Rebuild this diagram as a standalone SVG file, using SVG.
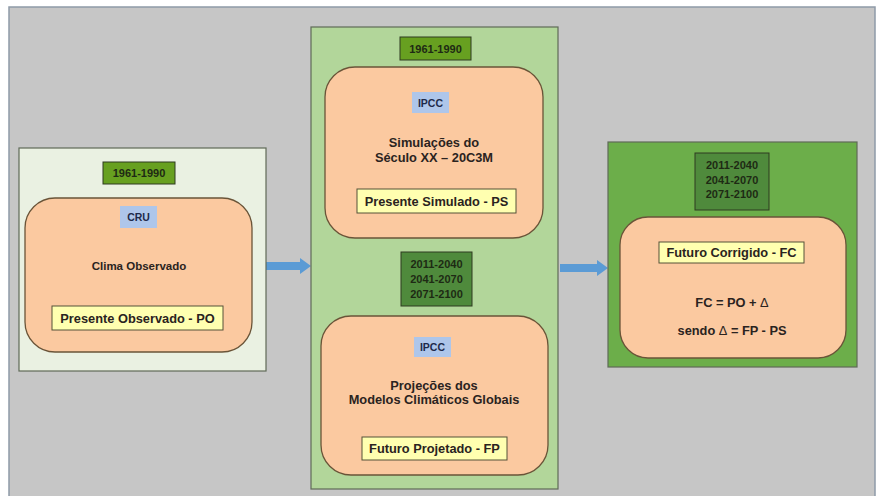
<svg xmlns="http://www.w3.org/2000/svg" width="878" height="496" viewBox="0 0 878 496">
<style>
text{font-family:"Liberation Sans",Arial,sans-serif;font-weight:bold;fill:#2a2320;text-anchor:middle;dominant-baseline:central}
.t11{font-size:11.5px}
.t13{font-size:12.8px}
.d{font-size:11px;fill:#1e2a14}
.s{font-size:10.5px;fill:#1e2a4a}
.cont{stroke:#5f6a58;stroke-width:1.2}
.date1{fill:#67a020;stroke:#2f3a20;stroke-width:1}
.date2{fill:#4f8a3c;stroke:#2f3a20;stroke-width:1}
.orange{fill:#fbc9a0;stroke:#6a5438;stroke-width:1.3}
.src{fill:#aec6ea}
.lbl{fill:#ffffb0;stroke:#555238;stroke-width:1}
.arrow{fill:#5b9bd5}
</style>
<rect x="0" y="0" width="878" height="496" fill="#ffffff"/>
<rect x="9" y="7" width="866" height="492" fill="#c6c6c6" stroke="#8e9aa8" stroke-width="1.5"/>

<g id="connectors">
<polygon class="arrow" points="266,262 300,262 300,258 311,266 300,274 300,270 266,270"/>
<polygon class="arrow" points="560,264 597,264 597,260 608,268 597,276 597,272 560,272"/>
</g>

<g id="observed">
<rect class="cont" x="19" y="148" width="247" height="223" fill="#eaf1e2"/>
<rect class="date1" x="103" y="162" width="72" height="22"/>
<text class="d" x="139" y="173">1961-1990</text>
<rect class="orange" x="25" y="198" width="227" height="154" rx="30"/>
<rect class="src" x="120" y="206" width="37" height="22"/>
<text class="s" x="138.5" y="217">CRU</text>
<text class="t11" x="139" y="266">Clima Observado</text>
<rect class="lbl" x="52" y="306" width="171" height="24"/>
<text class="t13" x="137.5" y="318">Presente Observado - PO</text>
</g>

<g id="simulated">
<rect class="cont" x="311" y="27" width="247" height="462" fill="#b2d69a"/>
<rect class="date1" x="400" y="37" width="71" height="23"/>
<text class="d" x="435.5" y="48.5">1961-1990</text>
<rect class="orange" x="325" y="67" width="218" height="171" rx="30"/>
<rect class="src" x="412" y="92" width="37" height="21"/>
<text class="s" x="430.5" y="102.5">IPCC</text>
<text class="t13" x="434" y="142">Simulações do</text>
<text class="t13" x="434" y="157">Século XX – 20C3M</text>
<rect class="lbl" x="357" y="189" width="159" height="24"/>
<text class="t13" x="436.5" y="201">Presente Simulado - PS</text>
</g>

<g id="projected">
<rect class="date2" x="401" y="252" width="71" height="54"/>
<text class="d" x="436.5" y="264">2011-2040</text>
<text class="d" x="436.5" y="279">2041-2070</text>
<text class="d" x="436.5" y="294">2071-2100</text>
<rect class="orange" x="321" y="316" width="227" height="159" rx="30"/>
<rect class="src" x="414" y="337" width="37" height="20"/>
<text class="s" x="432.5" y="347">IPCC</text>
<text class="t13" x="434" y="385">Projeções dos</text>
<text class="t13" x="434" y="399">Modelos Climáticos Globais</text>
<rect class="lbl" x="362" y="437" width="145" height="23"/>
<text class="t13" x="434.5" y="448.5">Futuro Projetado - FP</text>
</g>

<g id="corrected">
<rect class="cont" x="608" y="142" width="249" height="225" fill="#6cae4a"/>
<rect class="date2" x="695" y="153" width="74" height="57"/>
<text class="d" x="732" y="165">2011-2040</text>
<text class="d" x="732" y="179.5">2041-2070</text>
<text class="d" x="732" y="194">2071-2100</text>
<rect class="orange" x="620" y="217" width="226" height="141" rx="28"/>
<rect class="lbl" x="659" y="242" width="145" height="21"/>
<text class="t13" x="731.5" y="252.5">Futuro Corrigido - FC</text>
<text class="t13" x="732" y="302">FC = PO + <tspan font-weight="normal">Δ</tspan></text>
<text class="t13" x="732" y="330">sendo <tspan font-weight="normal">Δ</tspan> = FP - PS</text>
</g>
</svg>
